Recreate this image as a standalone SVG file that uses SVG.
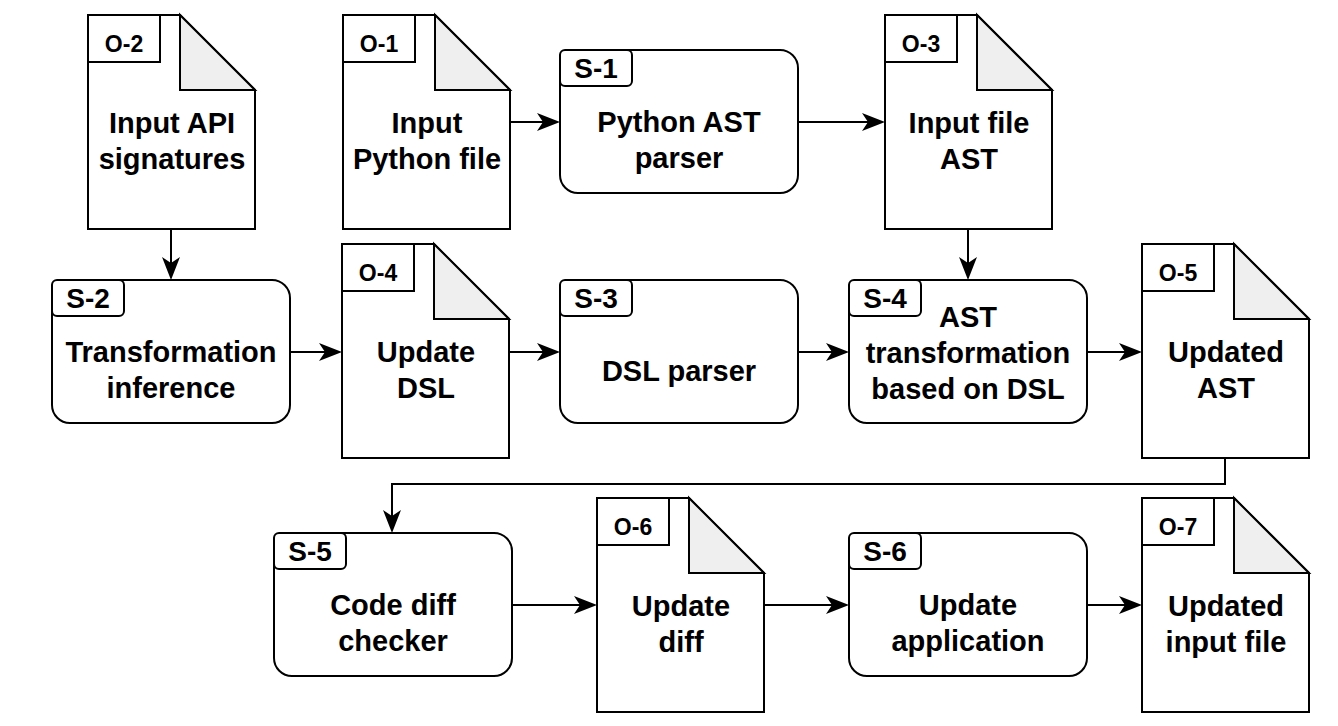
<svg xmlns="http://www.w3.org/2000/svg" width="1338" height="726" viewBox="0 0 1338 726">
<style>
text{font-family:"Liberation Sans",Arial,sans-serif;font-weight:bold;fill:#000;text-anchor:middle}
.t{font-size:29px}
.ol{font-size:23px}
.sl{font-size:28px}
.doc{fill:#fff;stroke:#000;stroke-width:2}
.fold{fill:#efefef;stroke:#000;stroke-width:2;stroke-linejoin:miter}
.box{fill:#fff;stroke:#000;stroke-width:2}
.lbl{fill:#fff;stroke:#000;stroke-width:2}
.edge{fill:none;stroke:#000;stroke-width:2}
</style>
<defs>
<marker id="arr" viewBox="-24 -10 26 20" markerWidth="26" markerHeight="20" refX="-5" refY="0" markerUnits="userSpaceOnUse" orient="auto">
<path d="M0,0 L-23,-9 L-17,0 L-23,9 Z" fill="#000"/>
</marker>
<g id="docshape">
<path class="doc" d="M0,0 H92 L167,75 V214 H0 Z"/>
<path class="fold" d="M92,0 V75 H167 Z"/>
<rect class="lbl" x="0" y="0" width="72" height="47"/>
</g>
<g id="procshape">
<rect class="box" x="0" y="0" width="238" height="143" rx="18" ry="18"/>
<rect class="lbl" x="0" y="0" width="72" height="36" rx="5" ry="5"/>
</g>
</defs>

<g id="connectors">
<path class="edge" d="M171,229 V275" marker-end="url(#arr)"/>
<path class="edge" d="M510,122 H555" marker-end="url(#arr)"/>
<path class="edge" d="M798,122 H880" marker-end="url(#arr)"/>
<path class="edge" d="M968,229 V275" marker-end="url(#arr)"/>
<path class="edge" d="M290,352 H337" marker-end="url(#arr)"/>
<path class="edge" d="M509,352 H555" marker-end="url(#arr)"/>
<path class="edge" d="M798,352 H844" marker-end="url(#arr)"/>
<path class="edge" d="M1088,352 H1137" marker-end="url(#arr)"/>
<path class="edge" d="M1225,459 V484 H392 V528" marker-end="url(#arr)"/>
<path class="edge" d="M512,605 H592" marker-end="url(#arr)"/>
<path class="edge" d="M764,605 H844" marker-end="url(#arr)"/>
<path class="edge" d="M1087,605 H1137" marker-end="url(#arr)"/>
</g>

<g id="O-2" transform="translate(88,15)">
<use href="#docshape"/>
<text class="ol" x="36" y="37">O-2</text>
<text class="t" x="84" y="118">Input API</text>
<text class="t" x="84" y="154">signatures</text>
</g>
<g id="O-1" transform="translate(343,15)">
<use href="#docshape"/>
<text class="ol" x="36" y="37">O-1</text>
<text class="t" x="84" y="118">Input</text>
<text class="t" x="84" y="154">Python file</text>
</g>
<g id="O-3" transform="translate(885,15)">
<use href="#docshape"/>
<text class="ol" x="36" y="37">O-3</text>
<text class="t" x="84" y="118">Input file</text>
<text class="t" x="84" y="154">AST</text>
</g>
<g id="O-4" transform="translate(342,244)">
<use href="#docshape"/>
<text class="ol" x="36" y="37">O-4</text>
<text class="t" x="84" y="118">Update</text>
<text class="t" x="84" y="154">DSL</text>
</g>
<g id="O-5" transform="translate(1142,244)">
<use href="#docshape"/>
<text class="ol" x="36" y="37">O-5</text>
<text class="t" x="84" y="118">Updated</text>
<text class="t" x="84" y="154">AST</text>
</g>
<g id="O-6" transform="translate(597,498)">
<use href="#docshape"/>
<text class="ol" x="36" y="37">O-6</text>
<text class="t" x="84" y="118">Update</text>
<text class="t" x="84" y="154">diff</text>
</g>
<g id="O-7" transform="translate(1142,498)">
<use href="#docshape"/>
<text class="ol" x="36" y="37">O-7</text>
<text class="t" x="84" y="118">Updated</text>
<text class="t" x="84" y="154">input file</text>
</g>

<g id="S-1" transform="translate(560,50)">
<use href="#procshape"/>
<text class="sl" x="36" y="28">S-1</text>
<text class="t" x="119" y="82">Python AST</text>
<text class="t" x="119" y="118">parser</text>
</g>
<g id="S-2" transform="translate(52,280)">
<use href="#procshape"/>
<text class="sl" x="36" y="28">S-2</text>
<text class="t" x="119" y="82">Transformation</text>
<text class="t" x="119" y="118">inference</text>
</g>
<g id="S-3" transform="translate(560,280)">
<use href="#procshape"/>
<text class="sl" x="36" y="28">S-3</text>
<text class="t" x="119" y="101">DSL parser</text>
</g>
<g id="S-4" transform="translate(849,280)">
<use href="#procshape"/>
<text class="sl" x="36" y="28">S-4</text>
<text class="t" x="119" y="47">AST</text>
<text class="t" x="119" y="83">transformation</text>
<text class="t" x="119" y="119">based on DSL</text>
</g>
<g id="S-5" transform="translate(274,533)">
<use href="#procshape"/>
<text class="sl" x="36" y="28">S-5</text>
<text class="t" x="119" y="82">Code diff</text>
<text class="t" x="119" y="118">checker</text>
</g>
<g id="S-6" transform="translate(849,533)">
<use href="#procshape"/>
<text class="sl" x="36" y="28">S-6</text>
<text class="t" x="119" y="82">Update</text>
<text class="t" x="119" y="118">application</text>
</g>
</svg>
